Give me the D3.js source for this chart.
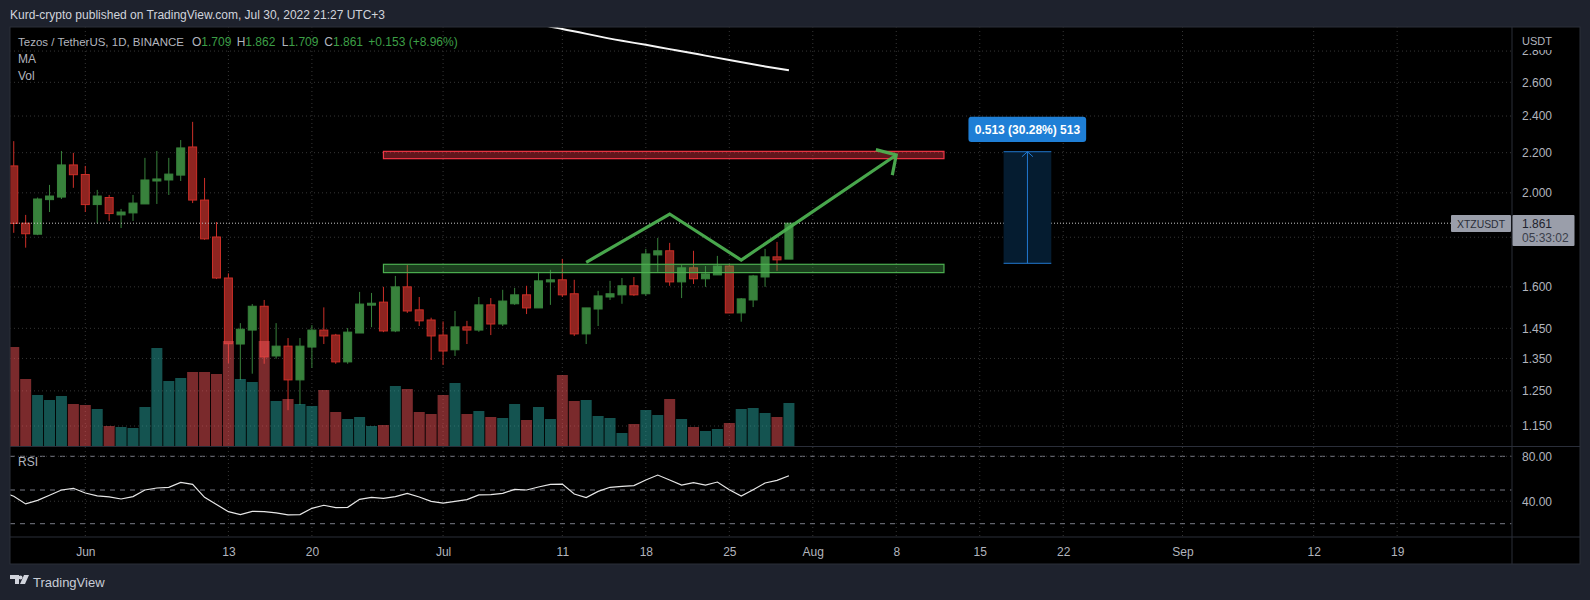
<!DOCTYPE html>
<html><head><meta charset="utf-8">
<script src="https://cdn.jsdelivr.net/npm/d3@7/dist/d3.min.js"></script>
<style>
html,body{margin:0;padding:0;background:#1e222d;overflow:hidden}
text{font-family:"Liberation Sans",Arial,sans-serif;font-size:12px}
</style></head><body><svg id="c" width="1590" height="600"></svg>
<script>
const firstDay="2022-05-26";
const open=[2.132,1.861,1.813,1.968,1.980,2.137,2.089,1.945,1.978,1.898,1.907,1.948,2.057,2.062,2.086,2.230,1.966,1.801,1.634,1.397,1.444,1.528,1.358,1.390,1.283,1.387,1.444,1.427,1.339,1.434,1.532,1.543,1.441,1.600,1.515,1.479,1.427,1.378,1.455,1.444,1.533,1.465,1.537,1.570,1.522,1.619,1.627,1.574,1.431,1.518,1.562,1.570,1.604,1.574,1.726,1.743,1.619,1.674,1.631,1.646,1.681,1.504,1.551,1.638,1.718,1.709];
const high=[2.261,1.898,1.978,2.038,2.209,2.199,2.132,2.014,1.990,1.925,1.990,2.173,2.209,2.173,2.267,2.367,2.072,1.866,1.652,1.468,1.536,1.551,1.468,1.417,1.417,1.461,1.524,1.431,1.451,1.581,1.577,1.600,1.642,1.685,1.562,1.487,1.474,1.511,1.476,1.562,1.558,1.589,1.596,1.604,1.658,1.666,1.710,1.627,1.522,1.585,1.623,1.634,1.638,1.751,1.797,1.776,1.685,1.743,1.681,1.722,1.689,1.558,1.646,1.751,1.780,1.862];
const low=[1.819,1.756,1.809,1.911,1.971,2.024,1.911,1.861,1.871,1.840,1.871,1.948,1.948,1.990,2.057,1.952,1.789,1.630,1.335,1.283,1.302,1.333,1.349,1.194,1.209,1.320,1.397,1.333,1.333,1.434,1.454,1.437,1.437,1.504,1.458,1.345,1.329,1.358,1.397,1.438,1.427,1.458,1.533,1.500,1.522,1.533,1.562,1.424,1.397,1.458,1.551,1.537,1.566,1.566,1.658,1.604,1.558,1.611,1.600,1.646,1.504,1.473,1.525,1.600,1.662,1.709];
const close=[1.860,1.815,1.971,1.985,2.137,2.088,1.945,1.985,1.904,1.911,1.952,2.062,2.067,2.091,2.225,1.966,1.793,1.634,1.398,1.447,1.528,1.355,1.390,1.283,1.390,1.444,1.424,1.339,1.437,1.536,1.539,1.441,1.600,1.511,1.476,1.424,1.374,1.455,1.444,1.533,1.465,1.547,1.570,1.522,1.623,1.627,1.570,1.431,1.522,1.566,1.574,1.604,1.570,1.730,1.743,1.619,1.674,1.631,1.650,1.681,1.504,1.555,1.642,1.718,1.706,1.861];
const volume=[99,67,51,46,50,42,41,37,20,19,18,39,98,65,68,74,74,72,105,67,64,105,45,47,42,40,56,34,27,29,20,21,60,57,34,32,51,63,32,35,29,28,42,26,39,27,71,45,46,30,28,13,22,36,31,47,27,19,15,17,23,37,38,33,29,43];
const rsi=[48.3,44.4,37.6,40.8,45.3,50.0,51.5,47.3,44.7,43.8,42.0,44.1,50.0,51.8,52.4,56.8,55.0,43.5,37.0,30.7,28.1,31.0,30.7,29.6,27.8,28.1,33.7,36.4,34.3,34.6,41.7,43.5,42.6,44.1,47.0,43.8,39.9,38.4,39.9,41.4,45.6,45.9,47.0,50.6,50.0,52.7,55.0,55.3,46.4,43.2,48.8,52.4,53.3,53.9,58.9,63.3,58.9,54.4,56.5,54.4,57.1,50.3,44.7,50.3,56.2,58.6,62.7];
const rsiFirstDay="2022-05-25";
const maDays=["2022-07-09","2022-07-10","2022-07-11","2022-07-16","2022-07-18","2022-07-20","2022-07-21","2022-07-23","2022-07-25","2022-07-28","2022-07-30"];
const maValues=[2.985,2.967,2.951,2.869,2.842,2.813,2.799,2.770,2.741,2.700,2.675];
const priceTicks=[2.8,2.6,2.4,2.2,2.0,1.6,1.45,1.35,1.25,1.15];
const priceGrid=[2.8,2.6,2.4,2.2,2.0,1.8,1.6,1.45,1.35,1.25,1.15];
const rsiTicks=[80,40];
const rsiBands=[80,50,20];
const xTickDays=["2022-06-01","2022-06-13","2022-06-20","2022-07-01","2022-07-11","2022-07-18","2022-07-25","2022-08-01","2022-08-08","2022-08-15","2022-08-22","2022-09-01","2022-09-12","2022-09-19"];
const xTickLabels=["Jun","13","20","Jul","11","18","25","Aug","8","15","22","Sep","12","19"];
const lastPrice=1.861;
const resistance={from:"2022-06-26",to:"2022-08-12",hi:2.207,lo:2.169};
const support={from:"2022-06-26",to:"2022-08-12",hi:1.688,lo:1.655};
const pathDays=["2022-07-13","2022-07-20","2022-07-26","2022-08-08"];
const pathPrices=[1.696,1.902,1.705,2.188];
const headDays=["2022-08-06T07:00Z","2022-08-08","2022-08-07T16:00Z"];
const headPrices=[2.216,2.188,2.086];
const measure={from:"2022-08-17",to:"2022-08-21",mid:"2022-08-19",lo:1.692,hi:2.205,label:"0.513 (30.28%) 513"};

const d=s=>new Date(s.includes("T")?s:s+"T00:00:00Z");
const addDays=(s,i)=>new Date(d(s).getTime()+i*864e5);
const x=d3.scaleUtc().domain([d("2022-06-01"),d("2022-07-25")]).range([85.3,729.3]);
const y=d3.scaleLog().domain([1.15,2.6]).range([426,82.3]);
const yv=d3.scaleLinear().domain([0,150]).range([446,296]);
const yr=d3.scaleLinear().domain([20,80]).range([523.7,456.3]);
const svg=d3.select("#c");
const C={bg:"#1e222d",line:"#2a2e39",txt:"#b2b5be",grid:"#363636",gr:"#38823c",rd:"#8e2420",rdS:"#cb2f28"};
svg.append("rect").attr("width",1590).attr("height",600).attr("fill",C.bg);
svg.append("rect").attr("x",10).attr("y",27).attr("width",1570).attr("height",537).attr("fill","#000").attr("stroke",C.line).attr("stroke-width",1);
const defs=svg.append("defs");
defs.append("clipPath").attr("id","pm").append("rect").attr("x",10.5).attr("y",27.5).attr("width",1501).attr("height",419);
defs.append("clipPath").attr("id","pr").append("rect").attr("x",10.5).attr("y",447).attr("width",1501).attr("height",90);
defs.append("clipPath").attr("id","pa").append("rect").attr("x",1513).attr("y",50).attr("width",66).attr("height",396);

const main=svg.append("g").attr("clip-path","url(#pm)");
const rp=svg.append("g").attr("clip-path","url(#pr)");
// grid
main.selectAll("line.gy").data(priceGrid).join("line").attr("x1",10).attr("x2",1512).attr("y1",v=>y(v)).attr("y2",v=>y(v)).attr("stroke",C.grid).attr("stroke-dasharray","1 3");
const tickDates=xTickDays.map(d);
[main,rp].forEach((g,i)=>g.selectAll("line.gx").data(tickDates).join("line").attr("x1",t=>x(t)).attr("x2",t=>x(t)).attr("y1",i?447:27).attr("y2",i?537:446).attr("stroke",C.grid).attr("stroke-dasharray","1 3"));
// candles
const idx=d3.range(open.length);
const cg=main.append("g");
const up=i=>close[i]>=open[i];
cg.selectAll("line").data(idx).join("line").attr("x1",i=>x(addDays(firstDay,i))).attr("x2",i=>x(addDays(firstDay,i))).attr("y1",i=>y(high[i])).attr("y2",i=>y(low[i])).attr("stroke",i=>up(i)?C.gr:C.rdS).attr("stroke-width",1);
cg.selectAll("rect").data(idx).join("rect").attr("x",i=>x(addDays(firstDay,i))-4).attr("width",8)
 .attr("y",i=>y(Math.max(open[i],close[i]))).attr("height",i=>Math.max(1,Math.abs(y(open[i])-y(close[i]))))
 .attr("fill",i=>up(i)?C.gr:C.rd).attr("stroke",i=>up(i)?C.gr:C.rdS).attr("stroke-width",1);
// volume
main.append("g").selectAll("rect").data(idx).join("rect").attr("x",i=>x(addDays(firstDay,i))-5.5).attr("width",11)
 .attr("y",i=>yv(volume[i])).attr("height",i=>yv(0)-yv(volume[i])).attr("fill",i=>up(i)?"#28a6a0":"#f45458").attr("opacity",.5);
// MA
main.append("path").datum(maDays.map((s,i)=>[x(d(s)),y(maValues[i])])).attr("d",d3.line().curve(d3.curveMonotoneX)).attr("fill","none").attr("stroke","#f4f4f4").attr("stroke-width",2);
// last price
main.append("line").attr("x1",10).attr("x2",1451).attr("y1",y(lastPrice)).attr("y2",y(lastPrice)).attr("stroke","#c8c8c8").attr("stroke-dasharray","1 2");
// drawings
[[resistance,"#f23645",.4],[support,"#4caf50",.36]].forEach(([r,col,a])=>{
 main.append("rect").attr("x",x(d(r.from))).attr("width",x(d(r.to))-x(d(r.from))).attr("y",y(r.hi)).attr("height",y(r.lo)-y(r.hi))
  .attr("fill",col).attr("fill-opacity",a).attr("stroke",col).attr("stroke-width",1.2);
});
const poly=(ds,ps)=>d3.line()(ds.map((s,i)=>[x(d(s)),y(ps[i])]));
main.append("path").attr("d",poly(pathDays,pathPrices)).attr("fill","none").attr("stroke","#4caf50").attr("stroke-width",3.2).attr("opacity",.95);
main.append("path").attr("d",poly(headDays,headPrices)).attr("fill","none").attr("stroke","#4caf50").attr("stroke-width",3.2).attr("opacity",.95);
// measure
const mx0=x(d(measure.from)),mx1=x(d(measure.to)),mm=x(d(measure.mid)),mh=y(measure.hi),ml=y(measure.lo);
const blue="#2179d0";
main.append("rect").attr("x",mx0).attr("width",mx1-mx0).attr("y",mh).attr("height",ml-mh).attr("fill","#051c30");
[mh,ml].forEach(v=>main.append("line").attr("x1",mx0).attr("x2",mx1).attr("y1",v).attr("y2",v).attr("stroke",blue).attr("stroke-width",1));
main.append("line").attr("x1",mm).attr("x2",mm).attr("y1",mh).attr("y2",ml).attr("stroke",blue);
main.append("path").attr("d",`M${mm-5.5},${mh+5}L${mm},${mh}L${mm+5.5},${mh+5}`).attr("fill","none").attr("stroke",blue);
main.append("rect").attr("x",mm-59).attr("y",116.7).attr("width",117.7).attr("height",25.3).attr("rx",3).attr("fill","#1f7fd6");
main.append("text").attr("x",mm).attr("y",133.5).attr("text-anchor","middle").attr("fill","#fff").attr("font-weight","bold").style("font-size","12px").text(measure.label);
// rsi pane
rp.selectAll("line.b").data(rsiBands).join("line").attr("x1",10).attr("x2",1512).attr("y1",v=>yr(v)).attr("y2",v=>yr(v)).attr("stroke","#787b86").attr("stroke-dasharray","5 5");
rp.selectAll("line.g").data(rsiTicks).join("line").attr("x1",10).attr("x2",1512).attr("y1",v=>yr(v)).attr("y2",v=>yr(v)).attr("stroke",C.grid).attr("stroke-dasharray","1 3");
rp.append("path").datum(rsi.map((v,i)=>[x(addDays(rsiFirstDay,i)),yr(v)])).attr("d",d3.line()).attr("fill","none").attr("stroke","#e6e6e6").attr("stroke-width",1.2);
// separators
[[10,446.5,1580,446.5],[10,537,1580,537],[1512,27,1512,564]].forEach(l=>svg.append("line").attr("x1",l[0]).attr("y1",l[1]).attr("x2",l[2]).attr("y2",l[3]).attr("stroke",C.line));
// axes
const styleAxis=g=>{g.select(".domain").remove();g.selectAll(".tick line").remove();g.selectAll("text").attr("fill",C.txt).style("font-size","12px").style("font-family",'"Liberation Sans",Arial,sans-serif');};
svg.append("g").attr("clip-path","url(#pa)").append("g").attr("transform","translate(1522,0)")
 .call(d3.axisRight(y).tickValues(priceTicks).tickFormat(d3.format(".3f")).tickSize(0).tickPadding(0)).call(styleAxis);
svg.append("g").attr("transform","translate(1522,0)")
 .call(d3.axisRight(yr).tickValues(rsiTicks).tickFormat(d3.format(".2f")).tickSize(0).tickPadding(0)).call(styleAxis);
svg.append("g").attr("transform","translate(0,547)")
 .call(d3.axisBottom(x).tickValues(tickDates).tickFormat((t,i)=>xTickLabels[i]).tickSize(0).tickPadding(0)).call(styleAxis);
// last price label
svg.append("rect").attr("x",1451).attr("y",215).attr("width",60).attr("height",17).attr("rx",1).attr("fill","#9a9eaa");
svg.append("rect").attr("x",1512.5).attr("y",215).attr("width",62).attr("height",31).attr("rx",1).attr("fill","#9a9eaa");
const T=(xx,yy,s,col,extra)=>{const t=svg.append("text").attr("x",xx).attr("y",yy).attr("fill",col).text(s);if(extra)extra(t);return t;};
T(1457,228,"XTZUSDT","#2a2e39",t=>t.style("font-size","11px").attr("textLength",48).attr("lengthAdjust","spacingAndGlyphs"));
T(1522,228,lastPrice.toFixed(3),"#1e222d");
T(1522,242,"05:33:02","#3a3e4a");
T(1522,44.5,"USDT",C.txt,t=>t.style("font-size","11px"));
T(10,19,"Kurd-crypto published on TradingView.com, Jul 30, 2022 21:27 UTC+3","#d1d4dc");
T(18,46,"Tezos / TetherUS, 1D, BINANCE",C.txt,t=>t.style("font-size","11.5px"));
const g2="#3c9f46";
[[192,"O","1.709"],[236.7,"H","1.862"],[281.7,"L","1.709"],[324.3,"C","1.861"]].forEach(([px,a,b])=>{
 const t=T(px,46,a,C.txt); t.append("tspan").attr("fill",g2).text(b);
});
T(368.3,46,"+0.153 (+8.96%)",g2);
T(18,63,"MA",C.txt); T(18,80,"Vol",C.txt); T(18,466,"RSI",C.txt);
// footer
svg.append("path").attr("d","M10,575h9v9h-4v-5h-5zM24,575h5l-4,9h-5z").attr("fill","#d1d4dc");
svg.append("circle").attr("cx",20.5).attr("cy",577.5).attr("r",2).attr("fill","#d1d4dc");
T(33,587,"TradingView","#c8ccd6",t=>t.style("font-size","13px"));
</script></body></html>
